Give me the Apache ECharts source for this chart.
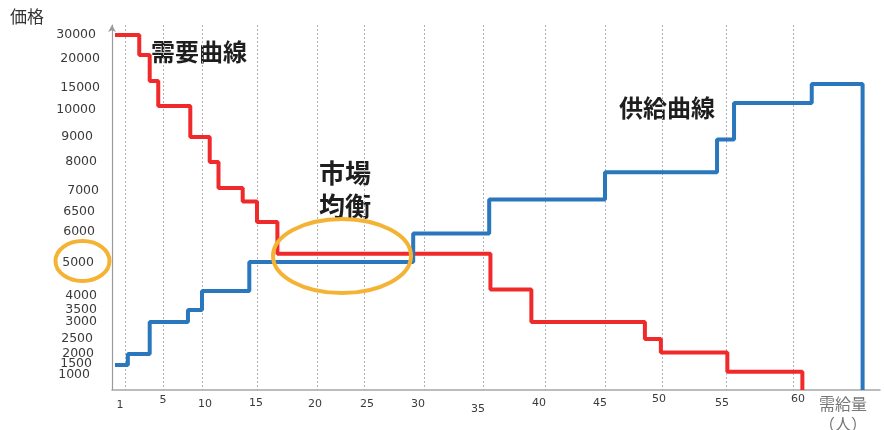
<!DOCTYPE html>
<html><head><meta charset="utf-8">
<script src="https://cdn.jsdelivr.net/npm/echarts@6/dist/echarts.min.js"></script>
<style>html,body{margin:0;padding:0;background:#fff}#c{width:884px;height:430px}</style>
</head><body><div id="c"></div>
<script>
// ---- data ----
const demandQty   = [0, 2.5, 3.6, 4.5, 8.5, 10.7, 11.5, 13.7, 15, 16.7, 35.6, 38.9, 48.5, 49.9, 55.1, 60.7];
const demandPrice = [30000, 21700, 16200, 10900, 9000, 8000, 7100, 6750, 6250, 5300, 4200, 3000, 2500, 2050, 1150, 0];
const supplyQty   = [0, 1.3, 3.6, 8.2, 10, 14.3, 29.1, 35.5, 45, 54.3, 55.6, 61.4, 65.2];
const supplyPrice = [1450, 2000, 3000, 3500, 4150, 5030, 5950, 6800, 7650, 8900, 11600, 15700, 0];
const xTickLabels = [1, 5, 10, 15, 20, 25, 30, 35, 40, 45, 50, 55, 60];
const yTickLabels = [1000, 1500, 2000, 2500, 3000, 3500, 4000, 5000, 6000, 6500, 7000, 8000, 9000, 10000, 15000, 20000, 30000];

// ---- layout of the hand-drawn (non-linear) axes ----
const xAnchorQty = [0, 1, 5, 10, 15, 20, 25, 30, 35, 40, 45, 50, 55, 60, 66.5];
const xAnchorPos = [3, 13, 51, 90, 145, 205, 252, 312, 371, 433, 493, 550, 614, 681, 768];
const xLabelPos  = [8, 51, 93, 144, 203, 255, 306, 366, 427, 488, 547, 610, 686];
const xLabelLH   = [24, 14, 22, 20, 22, 22, 22, 32, 20, 20, 12, 20, 12];
const yAnchorPrice = [0, 1000, 1500, 2000, 2500, 3000, 3500, 4000, 5000, 6000, 6500, 7000, 8000, 9000, 10000, 15000, 20000, 30000];
const yAnchorPos   = [0, 15, 26, 36, 51, 68, 80, 94, 127, 158, 178, 199, 228, 253, 280, 302, 331, 355];
const yLabelPad    = [10, 8, 6, 7, 3, 3, 3, 6, 5, 5, 1, 3, 7, 4, 0, 0, 4];

function interp(v, xs, ys) {
  for (let i = 0; i < xs.length - 1; i++) {
    if (v <= xs[i + 1] || i === xs.length - 2) {
      const t = (v - xs[i]) / (xs[i + 1] - xs[i]);
      return ys[i] + t * (ys[i + 1] - ys[i]);
    }
  }
}
const xPos = q => interp(q, xAnchorQty, xAnchorPos);
const yPos = p => interp(p, yAnchorPrice, yAnchorPos);
const xGridPos = xTickLabels.map(xPos);
const yLabelPos = yTickLabels.map(yPos);
const yLabelPosEven = yLabelPos.filter((v, i) => i % 2 === 0);
const yLabelPosOdd  = yLabelPos.filter((v, i) => i % 2 === 1);
function nearestIdx(v, arr) {
  let b = 0; for (let i = 1; i < arr.length; i++) if (Math.abs(arr[i] - v) < Math.abs(arr[b] - v)) b = i; return b;
}

const labelFont = 'DejaVu Sans';
const yRich = {}; yLabelPad.forEach((p, i) => { yRich['p' + i] = { padding: [0, p, 0, 0], lineHeight: 9, fontFamily: labelFont, fontSize: 12.5, color: '#3a3a3a' }; });
const xRich = {}; xLabelLH.forEach((h, i) => { xRich['h' + i] = { lineHeight: h, fontFamily: labelFont, fontSize: 11, color: '#3a3a3a' }; });
const yFormatter = v => { const i = nearestIdx(v, yLabelPos); return '{p' + i + '|' + yTickLabels[i] + '}'; };

function yAxisWith(values, showLine) {
  return {
    type: 'value', min: 0, max: 365, position: 'left',
    axisLine: { show: showLine, symbol: ['none', 'arrow'], symbolSize: [6, 7], lineStyle: { color: '#9a9a9a', width: 1.2 } },
    axisTick: { show: false },
    splitLine: { show: false },
    axisLabel: { customValues: values, margin: 12, hideOverlap: false, formatter: yFormatter, rich: yRich }
  };
}

const chart = echarts.init(document.getElementById('c'), null, { renderer: 'canvas' });
chart.setOption({
  animation: false,
  backgroundColor: '#fff',
  grid: { left: 112, right: 4, top: 25, bottom: 40, containLabel: false },
  xAxis: {
    type: 'value', min: 0, max: 768,
    axisLine: { show: true, lineStyle: { color: '#a6a6a6', width: 1.5 } },
    axisTick: { show: false, customValues: xGridPos },
    splitLine: { show: true, lineStyle: { color: '#b0b0b0', type: [2, 2], width: 1 } },
    axisLabel: {
      customValues: xLabelPos, margin: 3, hideOverlap: false,
      formatter: v => { const i = nearestIdx(v, xLabelPos); return '{h' + i + '|' + xTickLabels[i] + '}'; },
      rich: xRich
    }
  },
  yAxis: [yAxisWith(yLabelPosEven, true), yAxisWith(yLabelPosOdd, false)],
  series: [
    {
      name: '需要曲線', type: 'line', step: 'end', symbol: 'none', yAxisIndex: 0,
      data: demandQty.map((q, i) => [xPos(q), yPos(demandPrice[i])]),
      lineStyle: { color: '#f02a2a', width: 4 }
    },
    {
      name: '供給曲線', type: 'line', step: 'end', symbol: 'none', yAxisIndex: 0,
      data: supplyQty.map((q, i) => [xPos(q), yPos(supplyPrice[i])]),
      lineStyle: { color: '#2b77bd', width: 4 }
    }
  ],
  graphic: [
    { type: 'text', x: 10, y: 8, style: { text: '価格', font: '17px "Noto Sans CJK JP"', fill: '#333' } },
    { type: 'text', x: 151, y: 40, style: { text: '需要曲線', font: 'bold 24px "Noto Sans CJK JP"', fill: '#1e1e1e' } },
    { type: 'text', x: 319, y: 157, style: { text: '市場\n均衡', font: 'bold 26px "Noto Sans CJK JP"', lineHeight: 33, fill: '#1e1e1e' } },
    { type: 'text', x: 619, y: 96, style: { text: '供給曲線', font: 'bold 24px "Noto Sans CJK JP"', fill: '#1e1e1e' } },
    { type: 'text', x: 843, y: 394, style: { text: '需給量\n（人）', font: '16px "Noto Sans CJK JP"', lineHeight: 20, fill: '#777', align: 'center' } },
    { type: 'ellipse', shape: { cx: 82.5, cy: 261, rx: 27, ry: 20 }, style: { fill: 'none', stroke: '#f5b335', lineWidth: 4 }, z: 100 },
    { type: 'ellipse', shape: { cx: 342, cy: 256, rx: 69, ry: 37 }, style: { fill: 'none', stroke: '#f5b335', lineWidth: 4 }, z: 100 }
  ]
});
</script>
</body></html>
